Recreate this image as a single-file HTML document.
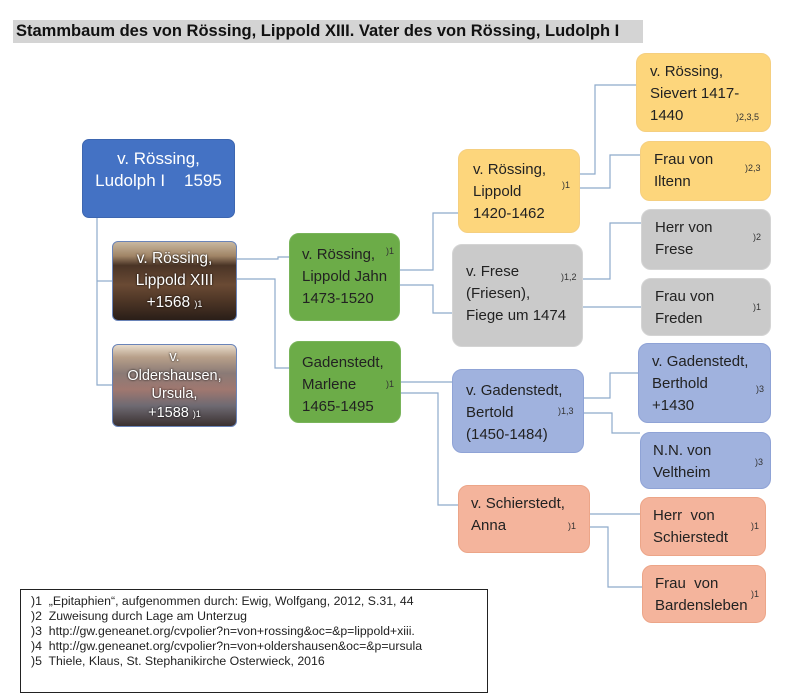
<!DOCTYPE html>
<html><head><meta charset="utf-8"><style>
body{margin:0;width:793px;height:700px;background:#fff;position:relative;font-family:"Liberation Sans",sans-serif;overflow:hidden}
.t{position:absolute;left:13px;top:20px;width:630px;height:23px;background:#d4d4d4;font-weight:bold;font-size:16.5px;line-height:23px;color:#111;padding-left:3px;box-sizing:border-box;white-space:nowrap}
.b{position:absolute;border-radius:10px;box-sizing:border-box;font-size:15px;line-height:22px;color:#222;padding:7px 0 0 14px}
.s{position:absolute;font-size:9px;color:#333}
.y{background:#fdd67c;border:1px solid #f5cf80}
.g{background:#cacaca;border:1px solid #d4d4d4}
.p{background:#a0b2de;border:1px solid #8fa3d6}
.o{background:#f4b49c;border:1px solid #eca588}
.gr{background:#6cac48;border:1px solid #79b45a}
.ph{color:#fff;text-align:center;padding:6px 0 0 0;font-size:15.5px;line-height:22px;text-shadow:0 0 2px #000;border:1px solid #6a84b8;border-radius:6px;overflow:hidden}
.leg{position:absolute;left:20px;top:589px;width:468px;height:104px;border:1px solid #222;font-size:12.3px;line-height:15px;color:#222;padding:4px 0 0 10px;box-sizing:border-box;white-space:nowrap}
</style></head><body>
<div class="t">Stammbaum des von Rössing, Lippold XIII. Vater des von Rössing, Ludolph I</div>
<svg width="793" height="700" style="position:absolute;left:0;top:0" fill="none" stroke="#8eaacb" stroke-width="1.2">
<polyline points="97,218 97,385 112,385"/><polyline points="97,281 112,281"/>
<polyline points="237,259 278,259 278,257 289,257"/>
<polyline points="237,279 275,279 275,368 289,368"/>
<polyline points="400,270 433,270 433,213 458,213"/>
<polyline points="400,285 433,285 433,313 452,313"/>
<polyline points="580,174 595,174 595,85 636,85"/>
<polyline points="580,188 610,188 610,155 640,155"/>
<polyline points="583,279 610,279 610,223 641,223"/>
<polyline points="583,307 641,307"/>
<polyline points="401,382 452,382"/>
<polyline points="401,393 438,393 438,505 458,505"/>
<polyline points="584,398 610,398 610,373 638,373"/>
<polyline points="584,413 612,413 612,433 640,433"/>
<polyline points="590,514 640,514"/>
<polyline points="590,527 608,527 608,587 642,587"/>
</svg>
<div class="b" style="left:82px;top:139px;width:153px;height:79px;background:#4472c4;border:1px solid #3d66b0;color:#fff;text-align:center;padding:8px 0 0;font-size:17px;line-height:22px;border-radius:7px">v. Rössing,<br>Ludolph I&nbsp;&nbsp;&nbsp; 1595</div>
<div class="b ph" style="left:112px;top:241px;width:125px;height:80px;background:linear-gradient(180deg,#c8b8a0 0%,#a08466 18%,#4a3426 30%,#6a4a34 55%,#4e3626 75%,#2a1e18 100%)">v. Rössing,<br>Lippold XIII<br>+1568 <span style="font-size:9px">)1</span></div>
<div class="b ph" style="left:112px;top:344px;width:125px;height:83px;background:linear-gradient(180deg,#e8dccc 0%,#b8a08a 15%,#8a7a76 35%,#a07870 55%,#6e6a72 75%,#3a3030 100%);font-size:14.5px;line-height:18.5px;padding-top:3px">v.<br>Oldershausen,<br>Ursula,<br>+1588 <span style="font-size:9px">)1</span></div>
<div class="b gr" style="left:289px;top:233px;width:111px;height:88px;padding-left:12px;padding-top:10px">v. Rössing,<br>Lippold Jahn<br>1473-1520</div><div class="s" style="left:386px;top:246px">)1</div>
<div class="b gr" style="left:289px;top:341px;width:112px;height:82px;padding-left:12px;padding-top:10px">Gadenstedt,<br>Marlene<br>1465-1495</div><div class="s" style="left:386px;top:379px">)1</div>
<div class="b y" style="left:458px;top:149px;width:122px;height:84px;padding-top:9px">v. Rössing,<br>Lippold<br>1420-1462</div><div class="s" style="left:562px;top:180px">)1</div>
<div class="b y" style="left:636px;top:53px;width:135px;height:79px;padding-left:13px">v. Rössing,<br>Sievert 1417-<br>1440</div><div class="s" style="left:736px;top:112px">)2,3,5</div>
<div class="b y" style="left:640px;top:141px;width:131px;height:60px;padding-left:13px">Frau von<br>Iltenn</div><div class="s" style="left:745px;top:163px">)2,3</div>
<div class="b g" style="left:452px;top:244px;width:131px;height:103px;padding-left:13px;padding-top:16px">v. Frese<br>(Friesen),<br>Fiege um 1474</div><div class="s" style="left:561px;top:272px">)1,2</div>
<div class="b g" style="left:641px;top:209px;width:130px;height:61px;padding-left:13px">Herr von<br>Frese</div><div class="s" style="left:753px;top:232px">)2</div>
<div class="b g" style="left:641px;top:278px;width:130px;height:58px;padding-left:13px">Frau von<br>Freden</div><div class="s" style="left:753px;top:302px">)1</div>
<div class="b p" style="left:452px;top:369px;width:132px;height:84px;padding-left:13px;padding-top:10px">v. Gadenstedt,<br>Bertold<br>(1450-1484)</div><div class="s" style="left:558px;top:406px">)1,3</div>
<div class="b p" style="left:638px;top:343px;width:133px;height:80px;padding-left:13px">v. Gadenstedt,<br>Berthold<br>+1430</div><div class="s" style="left:756px;top:384px">)3</div>
<div class="b p" style="left:640px;top:432px;width:131px;height:57px;padding-left:12px">N.N. von<br>Veltheim</div><div class="s" style="left:755px;top:457px">)3</div>
<div class="b o" style="left:458px;top:485px;width:132px;height:68px;padding-left:12px;padding-top:7px">v. Schierstedt,<br>Anna</div><div class="s" style="left:568px;top:521px">)1</div>
<div class="b o" style="left:640px;top:497px;width:126px;height:59px;padding-left:12px">Herr&nbsp; von<br>Schierstedt</div><div class="s" style="left:751px;top:521px">)1</div>
<div class="b o" style="left:642px;top:565px;width:124px;height:58px;padding-left:12px">Frau&nbsp; von<br>Bardensleben</div><div class="s" style="left:751px;top:589px">)1</div>
<div class="leg">)1&nbsp; „Epitaphien“, aufgenommen durch: Ewig, Wolfgang, 2012, S.31, 44<br>)2&nbsp; Zuweisung durch Lage am Unterzug<br>)3&nbsp; http://gw.geneanet.org/cvpolier?n=von+rossing&amp;oc=&amp;p=lippold+xiii.<br>)4&nbsp; http://gw.geneanet.org/cvpolier?n=von+oldershausen&amp;oc=&amp;p=ursula<br>)5&nbsp; Thiele, Klaus, St. Stephanikirche Osterwieck, 2016</div>
</body></html>
